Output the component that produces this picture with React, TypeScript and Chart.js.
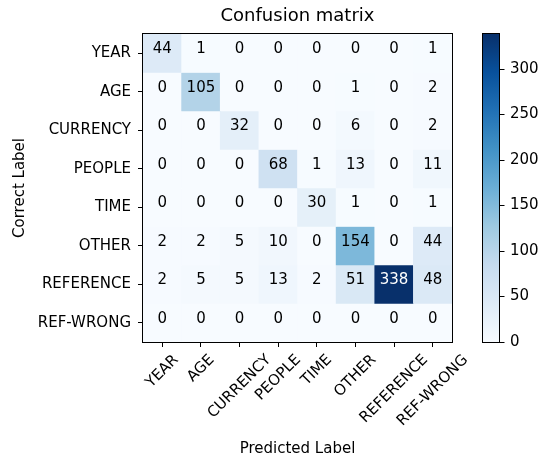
import React, { useEffect, useRef } from 'react';
import { Chart, registerables } from 'chart.js';

Chart.register(...registerables);

const TITLE = 'Confusion matrix';
const X_TITLE = 'Predicted Label';
const Y_TITLE = 'Correct Label';
const CLASSES = ['YEAR', 'AGE', 'CURRENCY', 'PEOPLE', 'TIME', 'OTHER', 'REFERENCE', 'REF-WRONG'];

const ROW_YEAR = [44, 1, 0, 0, 0, 0, 0, 1];
const ROW_AGE = [0, 105, 0, 0, 0, 1, 0, 2];
const ROW_CURRENCY = [0, 0, 32, 0, 0, 6, 0, 2];
const ROW_PEOPLE = [0, 0, 0, 68, 1, 13, 0, 11];
const ROW_TIME = [0, 0, 0, 0, 30, 1, 0, 1];
const ROW_OTHER = [2, 2, 5, 10, 0, 154, 0, 44];
const ROW_REFERENCE = [2, 5, 5, 13, 2, 51, 338, 48];
const ROW_REF_WRONG = [0, 0, 0, 0, 0, 0, 0, 0];

const MATRIX = [ROW_YEAR, ROW_AGE, ROW_CURRENCY, ROW_PEOPLE, ROW_TIME, ROW_OTHER, ROW_REFERENCE, ROW_REF_WRONG];

const COLORBAR_TICKS = [0, 50, 100, 150, 200, 250, 300];

const VMIN = 0;
const VMAX = Math.max(...MATRIX.map((r) => Math.max(...r)));

const BLUES = ['#f7fbff', '#deebf7', '#c6dbef', '#9ecae1', '#6baed6', '#4292c6', '#2171b5', '#08519c', '#08306b'];

function hexToRgb(h: string) {
  return [parseInt(h.slice(1, 3), 16), parseInt(h.slice(3, 5), 16), parseInt(h.slice(5, 7), 16)];
}

function blues(t: number) {
  const tt = Math.min(1, Math.max(0, t));
  const p = tt * (BLUES.length - 1);
  const i = Math.min(BLUES.length - 2, Math.floor(p));
  const f = p - i;
  const a = hexToRgb(BLUES[i]);
  const b = hexToRgb(BLUES[i + 1]);
  const c = a.map((v, k) => Math.round(v + (b[k] - v) * f));
  return `rgb(${c[0]},${c[1]},${c[2]})`;
}

const FONT = '"DejaVu Sans", sans-serif';

const heatPlugin = {
  id: 'heatExtras',
  afterDraw(chart: any) {
    const { ctx, chartArea: a, scales } = chart;
    const xs = scales.x;
    const ys = scales.y;
    const cb = scales.cb;
    ctx.save();

    // title
    ctx.fillStyle = '#000';
    ctx.font = `18px ${FONT}`;
    ctx.textAlign = 'center';
    ctx.textBaseline = 'middle';
    ctx.fillText(TITLE, (a.left + a.right) / 2, 16);

    // cell values
    ctx.font = `15px ${FONT}`;
    ctx.textAlign = 'center';
    ctx.textBaseline = 'alphabetic';
    MATRIX.forEach((row, r) => {
      row.forEach((v, c) => {
        ctx.fillStyle = v > (VMAX + VMIN) / 2 ? '#ffffff' : '#000000';
        ctx.fillText(String(v), xs.getPixelForValue(c), ys.getPixelForValue(r));
      });
    });

    // frame
    ctx.strokeStyle = '#000';
    ctx.lineWidth = 1;
    ctx.strokeRect(a.left - 0.5, a.top - 0.5, a.right - a.left + 1, a.bottom - a.top + 1);

    // rotated x tick labels (centered on tick, like matplotlib)
    ctx.fillStyle = '#000';
    ctx.font = `15px ${FONT}`;
    CLASSES.forEach((lab, i) => {
      const px = xs.getPixelForValue(i);
      const w = ctx.measureText(lab).width;
      const cy = a.bottom + 9.5 + ((w + 17) * Math.SQRT1_2) / 2;
      ctx.save();
      ctx.translate(px, cy);
      ctx.rotate(-Math.PI / 4);
      ctx.textAlign = 'center';
      ctx.textBaseline = 'middle';
      ctx.fillText(lab, 0, 0);
      ctx.restore();
    });

    // colorbar
    const top = cb.getPixelForValue(VMAX);
    const bot = cb.getPixelForValue(VMIN);
    const x0 = cb.left + 31;
    const w = 16;
    const g = ctx.createLinearGradient(0, bot, 0, top);
    BLUES.forEach((c, i) => g.addColorStop(i / (BLUES.length - 1), c));
    ctx.fillStyle = g;
    ctx.fillRect(x0, top, w, bot - top);
    ctx.strokeStyle = '#000';
    ctx.lineWidth = 1;
    ctx.strokeRect(x0 - 0.5, top - 0.5, w + 1, bot - top + 1);
    ctx.fillStyle = '#000';
    ctx.font = `15px ${FONT}`;
    ctx.textAlign = 'left';
    ctx.textBaseline = 'middle';
    COLORBAR_TICKS.forEach((v) => {
      const py = Math.round(cb.getPixelForValue(v)) + 0.5;
      ctx.beginPath();
      ctx.moveTo(x0 + w + 0.5, py);
      ctx.lineTo(x0 + w + 5.5, py);
      ctx.stroke();
      ctx.fillText(String(v), x0 + w + 11, py);
    });

    ctx.restore();
  },
};

export default function App() {
  const ref = useRef<HTMLCanvasElement>(null);

  useEffect(() => {
    if (!ref.current) return;
    Chart.defaults.font.family = FONT;
    Chart.defaults.color = '#000';

    const chart = new Chart(ref.current, {
      type: 'bar',
      data: {
        labels: CLASSES,
        datasets: MATRIX.map((row, r) => ({
          label: CLASSES[r],
          data: row.map(() => [r - 0.5, r + 0.5]),
          backgroundColor: row.map((v) => blues((v - VMIN) / (VMAX - VMIN))),
          borderWidth: 0,
          barPercentage: 1,
          categoryPercentage: 1,
          grouped: false,
          xAxisID: 'x',
          yAxisID: 'y',
        })) as any,
      },
      options: {
        responsive: false,
        animation: false,
        devicePixelRatio: 1,
        layout: { padding: { top: 34, left: 0, right: 0, bottom: 0 } },
        plugins: {
          legend: { display: false },
          tooltip: { enabled: false },
          title: { display: false },
        },
        scales: {
          x: {
            type: 'category',
            offset: true,
            afterFit: (s: any) => {
              s.height = 116;
            },
            ticks: { display: false, autoSkip: false },
            grid: {
              display: true,
              offset: false,
              drawOnChartArea: false,
              drawTicks: true,
              tickLength: 5,
              color: '#000',
              lineWidth: 1,
            },
            border: { display: false },
            title: {
              display: true,
              text: X_TITLE,
              color: '#000',
              font: { size: 15, family: FONT },
              padding: { top: 0, bottom: 0 },
            },
          },
          y: {
            type: 'linear',
            min: -0.5,
            max: 7.5,
            reverse: true,
            afterBuildTicks: (s: any) => {
              s.ticks = CLASSES.map((_, i) => ({ value: i }));
            },
            afterFit: (s: any) => {
              s.width = 143;
            },
            ticks: {
              autoSkip: false,
              color: '#000',
              padding: 7,
              font: { size: 15, family: FONT },
              callback: (v: any) => CLASSES[v as number] ?? '',
            },
            grid: {
              display: true,
              drawOnChartArea: false,
              drawTicks: true,
              tickLength: 5,
              color: '#000',
              lineWidth: 1,
            },
            border: { display: false },
            title: {
              display: true,
              text: Y_TITLE,
              color: '#000',
              font: { size: 15, family: FONT },
              padding: { top: 11, bottom: 0 },
            },
          },
          cb: {
            type: 'linear',
            position: 'right',
            min: VMIN,
            max: VMAX,
            afterBuildTicks: (s: any) => {
              s.ticks = COLORBAR_TICKS.map((v) => ({ value: v }));
            },
            afterFit: (s: any) => {
              s.width = 91;
            },
            ticks: { display: false, padding: 0 },
            grid: { display: false, drawTicks: false, drawOnChartArea: false },
            border: { display: false },
          },
        } as any,
      },
      plugins: [heatPlugin],
    });

    return () => chart.destroy();
  }, []);

  return (
    <div style={{ position: 'absolute', left: 0, top: 0, width: 543, height: 458, background: '#fff' }}>
      <canvas ref={ref} width={543} height={458} style={{ display: 'block', width: 543, height: 458 }} />
    </div>
  );
}
